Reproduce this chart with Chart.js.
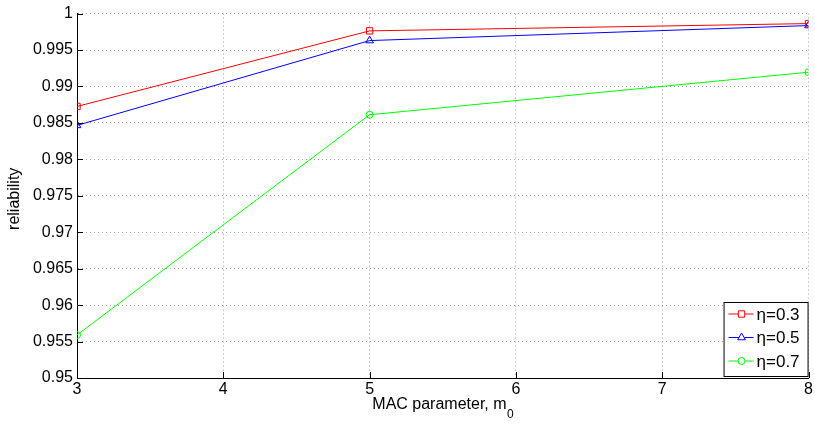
<!DOCTYPE html>
<html>
<head>
<meta charset="utf-8">
<script src="https://cdn.jsdelivr.net/npm/chart.js@4/dist/chart.umd.min.js"></script>
<style>
  html, body { margin: 0; padding: 0; background: #fff; }
  #wrap { width: 815px; height: 425px; position: relative; }
</style>
</head>
<body>
<div id="wrap"><canvas id="c" width="815" height="425"></canvas></div>
<script>
// MAC parameter values on the x axis
const macParam = [3, 5, 8];
// reliability for each eta
const eta03 = [0.98726, 0.99763, 0.99863];
const eta05 = [0.98466, 0.99630, 0.99836];
const eta07 = [0.95590, 0.98612, 0.99196];
const seriesLabels = ['\u03b7=0.3', '\u03b7=0.5', '\u03b7=0.7'];
const xTicks = [3, 4, 5, 6, 7, 8];
const yTicks = [0.95, 0.955, 0.96, 0.965, 0.97, 0.975, 0.98, 0.985, 0.99, 0.995, 1];
const xTitle = 'MAC parameter, m';
const xTitleSub = '0';
const yTitle = 'reliability';

const FONT = 'Liberation Sans, Arial, Helvetica, sans-serif';
const colors = ['#ff0000', '#0000ff', '#00ff00'];
const markers = ['rect', 'triangle', 'circle'];
const radii = [4.5, 4.5, 3.5];

const toPoints = vals => vals.map((v, i) => ({ x: macParam[i], y: v }));

const datasets = [eta03, eta05, eta07].map((vals, i) => ({
  label: seriesLabels[i],
  data: toPoints(vals),
  borderColor: colors[i],
  backgroundColor: 'rgba(0,0,0,0)',
  borderWidth: 1,
  pointStyle: markers[i],
  pointRadius: radii[i],
  pointBorderWidth: 1,
  pointBackgroundColor: 'rgba(0,0,0,0)',
  pointBorderColor: colors[i],
  tension: 0
}));

// inward tick marks plus the axis titles (x title carries a subscript)
const axisDecor = {
  id: 'axisDecor',
  afterDatasetsDraw(chart) {
    const { ctx, chartArea: a, scales: { x, y } } = chart;
    ctx.save();
    ctx.strokeStyle = '#000';
    ctx.lineWidth = 1;
    ctx.beginPath();
    xTicks.forEach(t => {
      const px = Math.round(x.getPixelForValue(t)) + 0.5;
      ctx.moveTo(px, a.bottom); ctx.lineTo(px, a.bottom - 6);
    });
    yTicks.forEach(t => {
      const py = Math.round(y.getPixelForValue(t)) + 0.5;
      ctx.moveTo(a.left, py); ctx.lineTo(a.left + 6, py);
    });
    ctx.stroke();

    // x axis title with subscript
    ctx.fillStyle = '#000';
    ctx.textBaseline = 'alphabetic';
    ctx.textAlign = 'left';
    ctx.font = '16px ' + FONT;
    const w1 = ctx.measureText(xTitle).width;
    ctx.font = '12px ' + FONT;
    const w2 = ctx.measureText(xTitleSub).width;
    const cx = (a.left + a.right) / 2;
    const sx = cx - (w1 + w2) / 2;
    ctx.font = '16px ' + FONT;
    ctx.fillText(xTitle, sx, a.bottom + 31);
    ctx.font = '12px ' + FONT;
    ctx.fillText(xTitleSub, sx + w1 + 0.5, a.bottom + 40);

    // y axis title
    ctx.font = '16px ' + FONT;
    ctx.textAlign = 'center';
    ctx.textBaseline = 'middle';
    ctx.translate(15, (a.top + a.bottom) / 2 + 3);
    ctx.rotate(-Math.PI / 2);
    ctx.fillText(yTitle, 0, 0);
    ctx.restore();
  }
};

// boxed legend in the lower right corner of the plot area
const boxLegend = {
  id: 'boxLegend',
  afterDraw(chart) {
    const { ctx, chartArea: a } = chart;
    const w = 84, h = 74;
    const x0 = a.right - w - 1, y0 = a.bottom - h - 2;
    ctx.save();
    ctx.fillStyle = '#fff';
    ctx.fillRect(x0, y0, w, h);
    ctx.strokeStyle = '#000';
    ctx.lineWidth = 1;
    ctx.strokeRect(x0 + 0.5, y0 + 0.5, w, h);
    chart.data.datasets.forEach((ds, i) => {
      const cy = y0 + 12 + i * 23.5;
      ctx.strokeStyle = ds.borderColor;
      ctx.lineWidth = 1;
      ctx.beginPath();
      ctx.moveTo(x0 + 5, cy); ctx.lineTo(x0 + 30, cy);
      ctx.stroke();
      ctx.fillStyle = '#fff';
      ctx.strokeStyle = ds.borderColor;
      Chart.helpers.drawPoint(ctx, {
        pointStyle: ds.pointStyle, radius: ds.pointRadius, borderWidth: 1, rotation: 0
      }, x0 + 18, cy);
      ctx.fillStyle = '#000';
      ctx.font = '17px ' + FONT;
      ctx.textBaseline = 'middle';
      ctx.textAlign = 'left';
      ctx.fillText(ds.label, x0 + 33, cy + 1);
    });
    ctx.restore();
  }
};

new Chart(document.getElementById('c'), {
  type: 'line',
  data: { datasets },
  options: {
    responsive: false,
    animation: false,
    events: [],
    layout: { padding: { left: 0, right: 3, top: 13, bottom: 0 } },
    plugins: { legend: { display: false }, tooltip: { enabled: false } },
    scales: {
      x: {
        type: 'linear',
        min: 3, max: 8,
        afterBuildTicks: s => { s.ticks = xTicks.map(v => ({ value: v })); },
        afterFit: s => { s.height = 47; },
        ticks: {
          color: '#000',
          font: { family: FONT, size: 16 },
          padding: 2,
          maxRotation: 0,
          callback: v => String(v)
        },
        grid: { color: '#a0a0a0', lineWidth: 1, drawTicks: false },
        border: { display: true, color: '#000', width: 1, dash: [1, 3] }
      },
      y: {
        type: 'linear',
        min: 0.95, max: 1,
        afterBuildTicks: s => { s.ticks = yTicks.map(v => ({ value: v })); },
        afterFit: s => { s.width = 77; },
        ticks: {
          color: '#000',
          font: { family: FONT, size: 16 },
          padding: 4,
          callback: v => String(parseFloat(v.toFixed(3)))
        },
        grid: { color: '#a0a0a0', lineWidth: 1, drawTicks: false },
        border: { display: true, color: '#000', width: 1, dash: [1, 3] }
      }
    }
  },
  plugins: [axisDecor, boxLegend]
});
</script>
</body>
</html>
